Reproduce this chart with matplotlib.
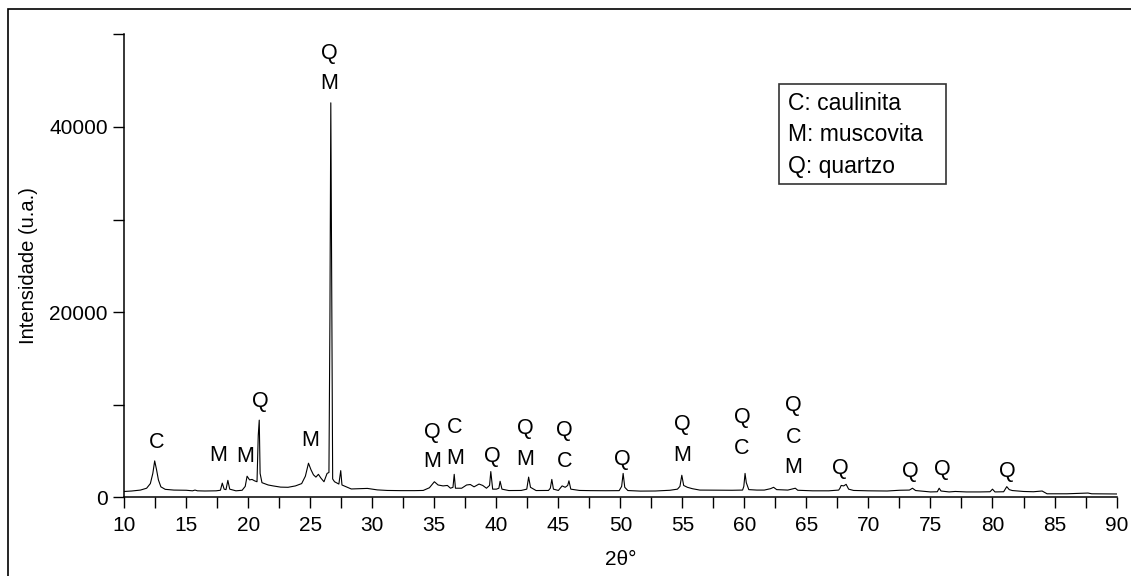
import matplotlib.pyplot as plt
from matplotlib.patches import Rectangle
from matplotlib.ticker import MultipleLocator

plt.rcParams['font.family'] = ['Liberation Sans', 'DejaVu Sans']

# Difratograma (2theta, intensidade)
dois_theta = [10.0, 10.6, 11.3, 11.8, 12.1, 12.3, 12.45, 12.6, 12.75, 12.95,
              13.3, 14.0, 15.0, 15.5, 15.7, 15.9, 16.5, 17.4, 17.75, 17.9,
              18.05, 18.2, 18.35, 18.5, 19.0, 19.5, 19.75, 19.9, 20.1, 20.3,
              20.5, 20.7, 20.8, 20.88, 20.95, 21.1, 21.6, 22.0, 22.6, 23.2,
              23.8, 24.3, 24.6, 24.85, 25.05, 25.25, 25.45, 25.65, 25.85, 26.1,
              26.35, 26.5, 26.58, 26.65, 26.72, 26.8, 26.95, 27.15, 27.3, 27.45,
              27.55, 27.9, 28.3, 29.0, 29.6, 30.4, 31.2, 32.3, 33.4, 34.1,
              34.6, 35.0, 35.3, 35.7, 36.05, 36.3, 36.5, 36.6, 36.7, 37.2,
              37.6, 37.9, 38.2, 38.6, 38.9, 39.2, 39.45, 39.55, 39.7, 40.0,
              40.2, 40.3, 40.45, 41.0, 42.0, 42.45, 42.6, 42.75, 43.2, 44.2,
              44.35, 44.47, 44.6, 45.0, 45.3, 45.55, 45.75, 45.85, 46.0, 46.7,
              47.6, 48.8, 49.9, 50.1, 50.22, 50.35, 50.6, 51.6, 52.8, 54.0,
              54.6, 54.8, 54.95, 55.1, 55.4, 55.8, 56.4, 57.5, 59.0, 59.85,
              59.95, 60.05, 60.15, 60.35, 61.0, 61.6, 62.1, 62.35, 62.6, 63.5,
              64.1, 64.3, 65.5, 66.8, 67.6, 67.7, 67.8, 68.0, 68.2, 68.4,
              68.8, 70.0, 71.5, 72.5, 73.3, 73.55, 73.8, 75.0, 75.55, 75.7,
              75.85, 76.5, 77.0, 77.9, 79.0, 79.8, 80.0, 80.2, 80.9, 81.15,
              81.35, 81.6, 82.5, 83.3, 84.0, 84.4, 86.0, 87.7, 88.0, 90.0]

intensidade = [650, 700, 800, 1000, 1500, 2600, 3950, 3000, 1900, 1150,
               880, 800, 780, 720, 800, 720, 700, 720, 780, 1550,
               900, 850, 1850, 900, 720, 780, 1200, 2300, 1900, 1950,
               1800, 1700, 6700, 8350, 2600, 1600, 1350, 1250, 1120, 1100,
               1250, 1500, 2300, 3700, 3000, 2450, 2200, 2500, 2100, 1700,
               2600, 2700, 19500, 42600, 23500, 2000, 1700, 1550, 1450, 2900,
               1350, 1150, 920, 950, 980, 820, 760, 740, 740, 760,
               1050, 1700, 1350, 1250, 1300, 1000, 1100, 2500, 1000, 1000,
               1350, 1400, 1150, 1450, 1300, 1000, 1300, 2800, 900, 900,
               1000, 1750, 900, 750, 760, 900, 2200, 1100, 750, 760,
               1000, 1950, 900, 760, 1250, 1100, 1300, 1800, 900, 760,
               740, 730, 740, 1200, 2600, 1100, 750, 690, 700, 780,
               900, 1200, 2400, 1300, 1100, 950, 800, 790, 780, 800,
               1200, 2600, 1600, 850, 800, 800, 950, 1100, 850, 800,
               1000, 780, 720, 720, 800, 1000, 1300, 1250, 1420, 900,
               760, 720, 700, 780, 800, 1000, 750, 600, 620, 1000,
               700, 600, 650, 600, 600, 620, 900, 600, 620, 1170,
               850, 750, 650, 620, 700, 400, 400, 480, 400, 380]

# Identificacao das fases sobre os picos
rotulos = ['C', 'M', 'M', 'Q', 'M', 'Q', 'M', 'Q', 'M', 'C', 'M', 'Q',
           'Q', 'M', 'Q', 'C', 'Q', 'Q', 'M', 'Q', 'C', 'Q', 'C', 'M',
           'Q', 'Q', 'Q', 'Q']
rotulo_x = [12.6, 17.58, 19.73, 21.0, 24.98, 26.5, 26.5, 34.85, 34.85, 36.67, 36.67, 39.7,
            42.3, 42.3, 45.48, 45.48, 50.12, 54.96, 54.96, 59.8, 59.8, 63.93, 63.93, 63.93,
            67.7, 73.35, 75.93, 81.18]
rotulo_y = [5900, 4550, 4450, 10400, 6200, 47950, 44700, 7050, 3850, 7600, 4250, 4450,
            7400, 4050, 7250, 3900, 4150, 7830, 4480, 8680, 5250, 9950, 6450, 3250,
            3120, 2820, 3060, 2820]

legenda = ['C: caulinita', 'M: muscovita', 'Q: quartzo']

fig = plt.figure(figsize=(11.31, 5.76), dpi=100)
ax = fig.add_axes([0.1099, 0.1363, 0.8773, 0.8042])

ax.plot(dois_theta, intensidade, color='black', lw=0.8)

for r, x, y in zip(rotulos, rotulo_x, rotulo_y):
    ax.text(x, y, r, ha='center', va='center', fontsize=15.5)

ax.set_xlim(10, 90)
ax.set_ylim(0, 50000)
ax.xaxis.set_major_locator(MultipleLocator(5))
ax.xaxis.set_minor_locator(MultipleLocator(2.5))
ax.yaxis.set_major_locator(MultipleLocator(20000))
ax.yaxis.set_minor_locator(MultipleLocator(10000))
ax.tick_params(which='both', direction='out', length=8, width=1.0, labelsize=15)
ax.tick_params(axis='x', pad=5)
ax.tick_params(axis='y', pad=4)

for s in ['top', 'right']:
    ax.spines[s].set_visible(False)
for s in ['left', 'bottom']:
    ax.spines[s].set_linewidth(1.1)

ax.set_xlabel('2θ°', fontsize=15, labelpad=11)
ax.set_ylabel('Intensidade (u.a.)', fontsize=14.5, labelpad=8)

# caixa com a legenda das fases
ax.add_patch(Rectangle((0.660, 0.677), 0.168, 0.216, transform=ax.transAxes,
                       fill=False, edgecolor='#333333', lw=1.2))
for i, t in enumerate(legenda):
    ax.text(0.669, 0.851 - i * 0.068, t, transform=ax.transAxes,
            ha='left', va='center', fontsize=16.5)

# moldura externa
fig.add_artist(Rectangle((8 / 1131, -0.1), 1.2, 1.1 - 9 / 576, transform=fig.transFigure,
                         fill=False, edgecolor='black', lw=1.2))

fig.savefig('out.png', dpi=100)
